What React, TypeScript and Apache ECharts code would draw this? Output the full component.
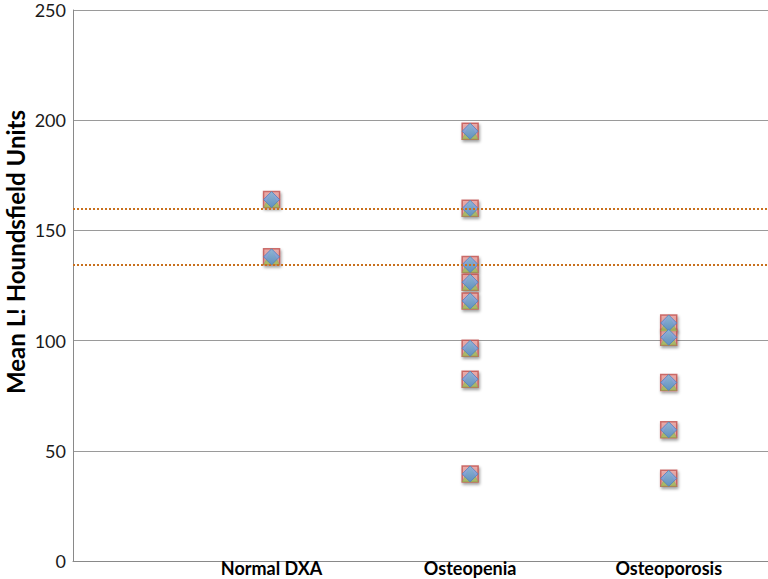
import React, { useEffect, useRef } from "react";
import * as echarts from "echarts";

const categories = ["Normal DXA", "Osteopenia", "Osteoporosis"];
const normalValues = [164, 138];
const osteopeniaValues = [195, 160, 134.5, 126.5, 118, 96.5, 82.5, 39.5];
const osteoporosisValues = [108, 101.5, 81, 59.5, 37.5];
const thresholdValues = [160, 134.5];
const yTicks = { min: 0, max: 250, interval: 50 };
const yTitle = "Mean L! Houndsfield Units";

function buildPoints(): number[][] {
  const pts: number[][] = [];
  normalValues.forEach((v) => pts.push([1, v]));
  osteopeniaValues.forEach((v) => pts.push([2, v]));
  osteoporosisValues.forEach((v) => pts.push([3, v]));
  return pts;
}

export default function App() {
  const ref = useRef<HTMLDivElement>(null);
  useEffect(() => {
    if (!ref.current) return;
    const chart = echarts.init(ref.current, undefined, { renderer: "svg" });
    const pts = buildPoints();
    const shadow = {
      shadowColor: "rgba(0,0,0,0.45)",
      shadowBlur: 3,
      shadowOffsetY: 2,
      shadowOffsetX: 1,
    };
    chart.setOption({
      animation: false,
      backgroundColor: "#ffffff",
      grid: {
        left: 73,
        top: 10,
        right: 0,
        bottom: 18,
        containLabel: false,
        outerBoundsMode: "none",
      },
      graphic: [
        {
          type: "text",
          x: 15,
          y: 252,
          rotation: Math.PI / 2,
          style: {
            text: yTitle,
            fontFamily: "Lato",
            fontWeight: "bold",
            fontSize: 24,
            lineHeight: 24,
            fill: "#000000",
            align: "center",
            verticalAlign: "middle",
          },
        },
      ],
      xAxis: {
        type: "value",
        min: 0,
        max: 3.5,
        interval: 1,
        axisLine: { show: true, lineStyle: { color: "#898989", width: 1 } },
        axisTick: { show: false },
        splitLine: { show: false },
        axisLabel: {
          showMaxLabel: false,
          margin: 0,
          fontFamily: "Lato",
          fontWeight: "bold",
          fontSize: 18,
          lineHeight: 14,
          color: "#000000",
          formatter: (v: number) => (v >= 1 && v <= 3 ? categories[v - 1] : ""),
        },
      },
      yAxis: {
        type: "value",
        min: yTicks.min,
        max: yTicks.max,
        interval: yTicks.interval,
        axisLine: { show: true, lineStyle: { color: "#898989", width: 1 } },
        axisTick: { show: false },
        splitLine: { show: true, lineStyle: { color: "#9a9a9a", width: 1 } },
        axisLabel: {
          margin: 7,
          fontFamily: "Lato",
          fontSize: 18,
          lineHeight: 16,
          color: "#1a1a1a",
        },
      },
      series: [
        {
          type: "scatter",
          data: pts,
          symbol: "rect",
          symbolSize: 16,
          itemStyle: { color: "#e99d9b", borderColor: "#c0504d", borderWidth: 1.5, ...shadow },
          markLine: {
            silent: true,
            symbol: ["none", "none"],
            label: { show: false },
            lineStyle: { type: "dotted", color: "#c8701e", width: 2 },
            data: thresholdValues.map((v) => ({ yAxis: v })),
          },
          z: 2,
        },
        {
          type: "scatter",
          data: pts,
          symbol: "triangle",
          symbolSize: 16,
          itemStyle: { color: "#9bbb59", borderColor: "#8aa94a", borderWidth: 0.5 },
          z: 3,
        },
        {
          type: "scatter",
          data: pts,
          symbol: "diamond",
          symbolSize: 16,
          itemStyle: {
            color: new echarts.graphic.LinearGradient(0, 0, 0, 1, [
              { offset: 0, color: "#8ab6ee" },
              { offset: 1, color: "#4f86d4" },
            ]),
            borderColor: "#4f81bd",
            borderWidth: 1,
          },
          z: 4,
        },
      ],
    });
    return () => chart.dispose();
  }, []);
  return (
    <div
      ref={ref}
      style={{ position: "absolute", left: 0, top: 0, width: 768, height: 579 }}
    />
  );
}
